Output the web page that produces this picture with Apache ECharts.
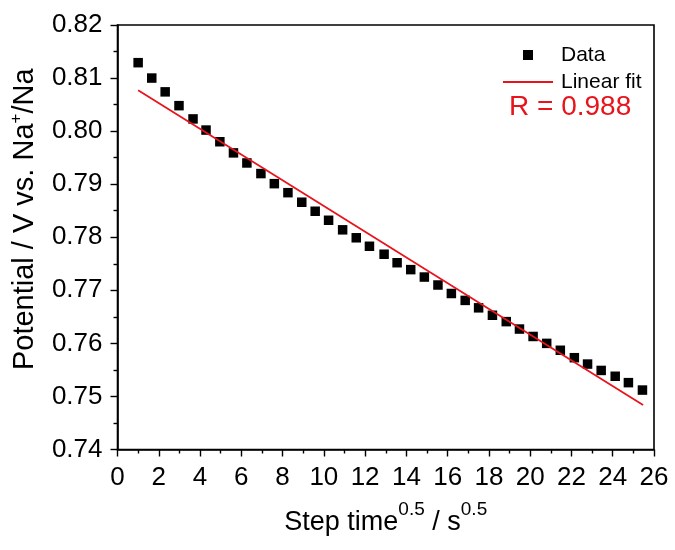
<!DOCTYPE html>
<html>
<head>
<meta charset="utf-8">
<script src="https://cdn.jsdelivr.net/npm/echarts@6/dist/echarts.min.js"></script>
<style>
  html, body { margin: 0; padding: 0; background: #fff; }
  #chart { width: 675px; height: 550px; }
</style>
</head>
<body>
<div id="chart"></div>
<script>
// Square-root of step time (s^0.5) for each measured point
const stepTime = [
  1.00, 1.66, 2.31, 2.98, 3.66, 4.29, 4.96, 5.62, 6.27, 6.95,
  7.60, 8.26, 8.93, 9.58, 10.23, 10.91, 11.57, 12.21, 12.92, 13.55,
  14.21, 14.87, 15.53, 16.18, 16.85, 17.50, 18.17, 18.84, 19.48, 20.14,
  20.80, 21.46, 22.14, 22.78, 23.44, 24.12, 24.76, 25.44
];
// Potential (V vs. Na+/Na) at each point
const potential = [
  0.8129, 0.8100, 0.8074, 0.8048, 0.8023, 0.8002, 0.7980, 0.7959, 0.7940, 0.7920,
  0.7901, 0.7884, 0.7866, 0.7849, 0.7832, 0.7814, 0.7799, 0.7783, 0.7768, 0.7752,
  0.7739, 0.7725, 0.7710, 0.7694, 0.7681, 0.7667, 0.7653, 0.7641, 0.7627, 0.7613,
  0.7600, 0.7587, 0.7573, 0.7561, 0.7549, 0.7538, 0.7526, 0.7512
];
// Linear fit end points
const fitX = [1.00, 25.47];
const fitY = [0.8077, 0.7484];
const fitR = '0.988';

// Axis ranges: [min, max, interval]
const xRange = [0, 26, 2];
const yRange = [0.74, 0.82, 0.01];

const FONT = "'Liberation Sans', Arial, sans-serif";
const RED = '#e8141c';

const chart = echarts.init(document.getElementById('chart'), null, { renderer: 'canvas' });

const axisCommon = {
  axisLine: { show: true, lineStyle: { color: '#000', width: 1.6 } },
  axisTick: { show: true, inside: false, length: 7, lineStyle: { color: '#000', width: 1.4 } },
  minorTick: { show: true, splitNumber: 2, length: 4, lineStyle: { color: '#000', width: 1.4 } },
  splitLine: { show: false },
  minorSplitLine: { show: false }
};

chart.setOption({
  animation: false,
  backgroundColor: '#fff',
  grid: {
    left: 116, right: 21, top: 25, bottom: 92,
    show: true, borderColor: '#000', borderWidth: 1.6, backgroundColor: 'transparent'
  },
  legend: {
    orient: 'vertical',
    left: 498, top: 38,
    itemWidth: 50, itemHeight: 10, itemGap: 3,
    symbolKeepAspect: true,
    textStyle: { fontFamily: FONT, fontSize: 21, color: '#000', lineHeight: 24, padding: [0, 0, 0, 3] },
    data: [
      { name: 'Data', icon: 'path://M0,0h10v10h-10z' },
      { name: 'Linear fit', icon: 'path://M0,0h50v2h-50z' }
    ]
  },
  xAxis: Object.assign({
    type: 'value',
    min: xRange[0], max: xRange[1], interval: xRange[2],
    name: 'Step time{sup|0.5} / s{sup|0.5}',
    nameLocation: 'middle',
    nameGap: 73,
    nameTextStyle: {
      fontFamily: FONT, fontSize: 27, color: '#000', lineHeight: 45,
      verticalAlign: 'middle',
      rich: { sup: { fontFamily: FONT, fontSize: 19, color: '#000', lineHeight: 19, verticalAlign: 'top' } }
    },
    axisLabel: { fontFamily: FONT, fontSize: 26, color: '#000', margin: 15 }
  }, axisCommon),
  yAxis: Object.assign({
    type: 'value',
    min: yRange[0], max: yRange[1], interval: yRange[2],
    name: 'Potential / V vs. Na{sup|+}/Na',
    nameLocation: 'middle',
    nameGap: 92,
    nameTextStyle: {
      fontFamily: FONT, fontSize: 29, color: '#000', lineHeight: 33,
      verticalAlign: 'middle',
      padding: [0, 0, 0, 36],
      rich: { sup: { fontFamily: FONT, fontSize: 17, color: '#000', lineHeight: 17, verticalAlign: 'top' } }
    },
    axisLabel: {
      fontFamily: FONT, fontSize: 26, color: '#000', margin: 15,
      formatter: v => v.toFixed(2)
    }
  }, axisCommon),
  series: [
    {
      name: 'Data',
      type: 'scatter',
      symbol: 'rect',
      symbolSize: 9.5,
      itemStyle: { color: '#000', opacity: 1 },
      data: stepTime.map((x, i) => [x, potential[i]]),
      z: 3
    },
    {
      name: 'Linear fit',
      type: 'line',
      showSymbol: false,
      symbol: 'none',
      lineStyle: { color: RED, width: 1.8 },
      itemStyle: { color: RED },
      data: fitX.map((x, i) => [x, fitY[i]]),
      z: 4
    }
  ],
  graphic: [{
    type: 'text',
    left: 509, top: 93,
    style: { text: 'R = ' + fitR, fill: RED, font: '28px ' + FONT }
  }]
});
</script>
</body>
</html>
